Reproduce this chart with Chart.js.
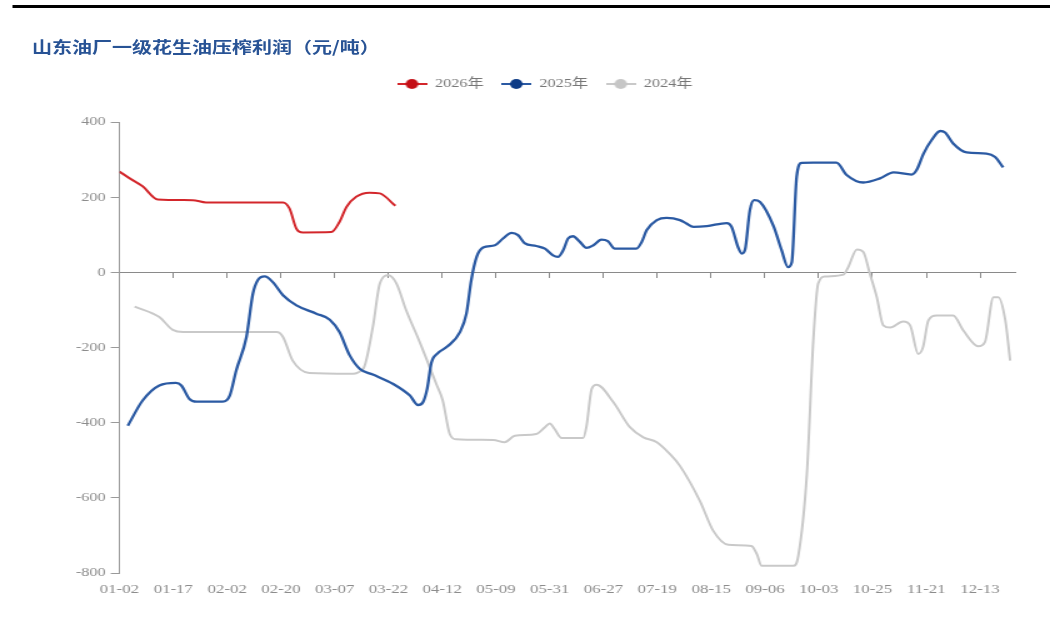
<!DOCTYPE html>
<html><head><meta charset="utf-8">
<script src="https://cdn.jsdelivr.net/npm/chart.js@4.4.1/dist/chart.umd.min.js"></script>
<style>
html,body{margin:0;padding:0;background:#fff;overflow:hidden;width:1050px;height:637px;}
#stage{position:absolute;left:0;top:0;width:840px;height:637px;transform:scaleX(1.25);transform-origin:0 0;}
#wrap{position:absolute;left:0;top:0;width:840px;height:637px;}
#topline{position:absolute;left:10.4px;top:4.5px;width:829.6px;height:3px;background:#000;}
#title{position:absolute;left:25.6px;top:36px;font-family:"Noto Sans CJK SC";font-weight:bold;font-size:16px;line-height:20px;color:#285395;white-space:nowrap;}
</style></head><body>
<div id="stage">
  <div id="wrap"><canvas id="c"></canvas></div>
  <div id="topline"></div>
  <div id="title">山东油厂一级花生油压榨利润（元/吨）</div>
</div>
<script>
// x positions are in units of the tick-label slots (0 = 01-02, 1 = 01-17, ...)
const xLabels = ['01-02','01-17','02-02','02-20','03-07','03-22','04-12','05-09','05-31','06-27','07-19','08-15','09-06','10-03','10-25','11-21','12-13'];
const yMin = -800, yMax = 400, yStep = 200;
const seriesNames = ['2026年','2025年','2024年'];

const data2026 = [[0,268],[0.19,250],[0.43,229],[0.71,194],[1.36,192],[1.61,186],[3.04,186],[3.16,170],[3.29,116],[3.41,106],[3.94,107],[4.09,134],[4.22,174],[4.40,201],[4.65,212],[4.84,210],[5.13,177]];

const data2025 = [[0.155,-408],[0.43,-341],[0.74,-301],[1.05,-294],[1.15,-301],[1.30,-337],[1.43,-344],[1.92,-344],[2.05,-328],[2.17,-261],[2.36,-172],[2.48,-57],[2.57,-21],[2.70,-11],[2.85,-26],[3.04,-61],[3.29,-88],[3.66,-110],[3.91,-126],[4.09,-159],[4.28,-221],[4.47,-257],[4.71,-272],[5.09,-297],[5.40,-328],[5.55,-353],[5.64,-346],[5.72,-310],[5.80,-240],[5.92,-215],[6.10,-197],[6.33,-159],[6.45,-110],[6.54,-21],[6.64,41],[6.76,66],[6.98,72],[7.13,90],[7.29,105],[7.41,99],[7.53,78],[7.75,70],[7.91,63],[8.06,45],[8.15,41],[8.25,59],[8.34,90],[8.43,96],[8.56,81],[8.68,65],[8.81,72],[8.96,87],[9.08,83],[9.21,63],[9.61,63],[9.71,81],[9.80,112],[9.99,139],[10.17,145],[10.42,139],[10.54,130],[10.67,121],[10.92,123],[11.29,131],[11.38,121],[11.50,67],[11.57,50],[11.63,60],[11.72,165],[11.80,192],[11.91,187],[12.16,123],[12.31,59],[12.43,14],[12.50,27],[12.59,254],[12.68,291],[12.90,292],[13.33,292],[13.52,259],[13.83,239],[14.14,250],[14.39,266],[14.73,260],[14.82,272],[14.95,316],[15.10,352],[15.26,376],[15.35,372],[15.50,343],[15.75,319],[16.12,316],[16.28,307],[16.43,279]];

const data2024 = [[0.28,-91],[0.74,-119],[0.99,-153],[1.18,-159],[2.92,-159],[3.04,-172],[3.22,-235],[3.53,-268],[4.28,-270],[4.53,-257],[4.71,-146],[4.84,-30],[5.00,-8],[5.15,-30],[5.33,-101],[5.58,-185],[5.89,-297],[6.01,-341],[6.14,-430],[6.26,-444],[6.95,-446],[7.16,-452],[7.35,-435],[7.75,-430],[7.91,-412],[8.00,-402],[8.09,-417],[8.22,-441],[8.62,-441],[8.68,-412],[8.78,-310],[8.87,-299],[9.18,-345],[9.49,-412],[9.74,-439],[9.99,-452],[10.23,-483],[10.42,-515],[10.79,-608],[11.04,-688],[11.32,-725],[11.75,-728],[11.85,-750],[11.94,-781],[12.53,-781],[12.62,-755],[12.78,-537],[12.90,-181],[12.99,-30],[13.12,-11],[13.46,-6],[13.55,14],[13.71,61],[13.83,54],[13.95,-3],[14.08,-66],[14.20,-141],[14.33,-147],[14.57,-131],[14.70,-141],[14.85,-217],[14.94,-199],[15.04,-128],[15.19,-115],[15.50,-115],[15.69,-155],[15.97,-197],[16.09,-186],[16.25,-66],[16.34,-66],[16.47,-128],[16.56,-235]];

const lineColors = ['#d3262b','#2b5aa3','#c9c9c9'];
const markerColors = ['#c40f16','#0d3b86','#c6c6c6'];
const xMax = 16.65;

function toPts(arr){ return arr.map(p => ({x:p[0], y:p[1]})); }
function marker(lineCol, dotCol){
  const cv = document.createElement('canvas');
  cv.width = 24; cv.height = 12;
  const g = cv.getContext('2d');
  g.strokeStyle = lineCol; g.lineWidth = 2;
  g.beginPath(); g.moveTo(0,6); g.lineTo(24,6); g.stroke();
  g.fillStyle = dotCol; g.beginPath(); g.arc(12,6,5,0,Math.PI*2); g.fill();
  return cv;
}
const markers = [0,1,2].map(i => marker(lineColors[i], markerColors[i]));

const tickFont = {family:'"Liberation Serif"', size:13};
const ds = [data2026, data2025, data2024].map((d,i) => ({
  label: seriesNames[i],
  data: toPts(d),
  borderColor: lineColors[i],
  backgroundColor: markerColors[i],
  borderWidth: i === 1 ? 2.3 : 2,
  pointRadius: 0,
  tension: 0.4,
  cubicInterpolationMode: 'monotone',
  fill: false,
  xAxisID: 'x', yAxisID: 'y'
}));

new Chart(document.getElementById('c'), {
  type: 'line',
  data: { datasets: ds },
  options: {
    responsive: true, maintainAspectRatio: false, animation: false,
    devicePixelRatio: 1,
    layout: { padding: { top: 63.5, left: 59.6, right: 28, bottom: 31.8 } },
    plugins: {
      tooltip: { enabled: false },
      legend: {
        position: 'top',
        labels: {
          usePointStyle: true, pointStyleWidth: 24, padding: 14,
          color: '#777', font: {family:'"Liberation Serif", "Noto Sans CJK SC"', size: 13},
          generateLabels(chart){
            return chart.data.datasets.map((d,i) => ({
              text: d.label, pointStyle: markers[i], fillStyle: markerColors[i],
              strokeStyle: lineColors[i], lineWidth: 0, hidden: false, datasetIndex: i, fontColor: '#777'
            }));
          }
        }
      }
    },
    scales: {
      x: {
        type: 'linear', position: 'bottom', min: 0, max: xMax,
        border: { display: false }, grid: { display: false, drawTicks: false },
        ticks: {
          stepSize: 1, includeBounds: false, autoSkip: false, maxRotation: 0, minRotation: 0,
          padding: 8, color: '#8c8c8c', font: {family:'"Liberation Serif"', size: 13.5},
          callback: v => Number.isInteger(v) ? (xLabels[v] || '') : ''
        }
      },
      x2: {
        type: 'linear', position: { y: 0 }, min: 0, max: xMax,
        border: { display: true, color: '#8a8a8a', width: 1 },
        grid: { drawOnChartArea: false, drawTicks: true, tickLength: 5, tickColor: '#8a8a8a' },
        ticks: { display: false, stepSize: 1, includeBounds: false, autoSkip: false }
      },
      xTop: {
        type: 'linear', position: 'top', display: true,
        border: { display: false }, grid: { display: false }, ticks: { display: false },
        afterFit(s){ s.height = 21.5; }
      },
      y: {
        type: 'linear', min: yMin, max: yMax,
        border: { display: true, color: '#9a9a9a', width: 1 },
        grid: { drawOnChartArea: false, drawTicks: true, tickLength: 7, tickColor: '#9a9a9a' },
        ticks: { stepSize: yStep, padding: 4, color: '#8c8c8c', font: tickFont },
        afterFit(s){ s.width = 36; }
      }
    }
  }
});
</script>
</body></html>
